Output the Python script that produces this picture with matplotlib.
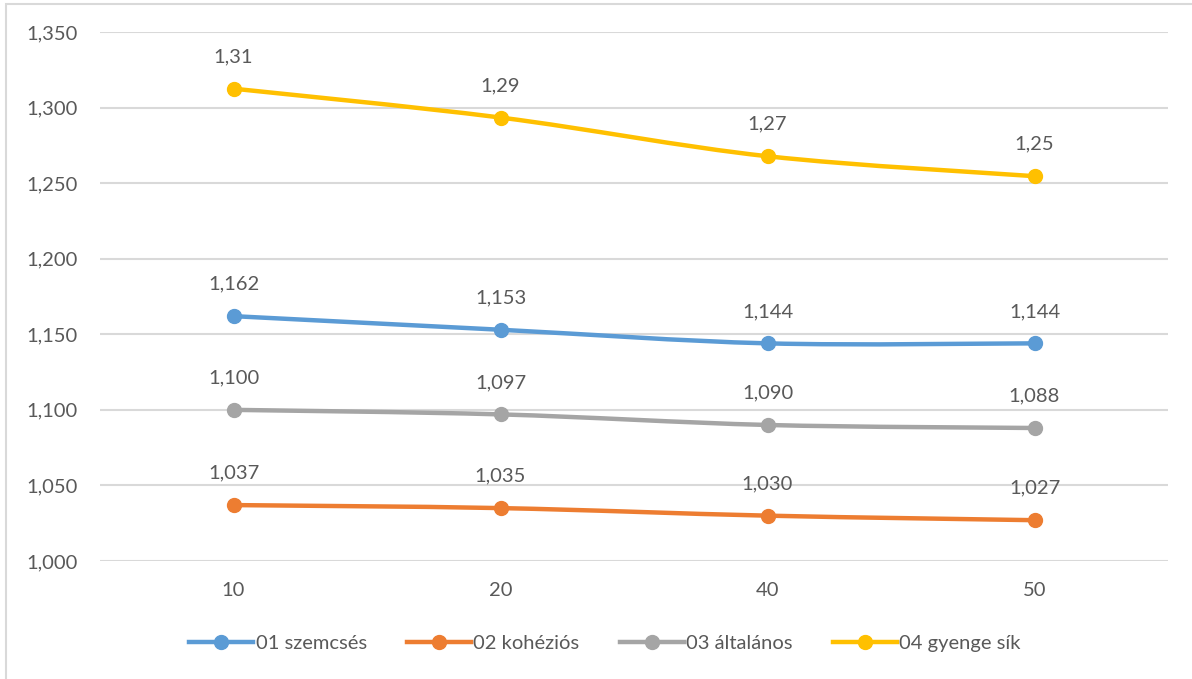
import matplotlib
matplotlib.use("Agg")
import matplotlib.pyplot as plt
from matplotlib.path import Path
from matplotlib.patches import PathPatch, Rectangle
from matplotlib.lines import Line2D
import numpy as np

# Category axis and series
categories = ["10", "20", "40", "50"]
szemcses = [1.162, 1.153, 1.144, 1.144]
kohezios = [1.037, 1.035, 1.030, 1.027]
altalanos = [1.100, 1.097, 1.090, 1.088]
gyenge_sik = [1.3125, 1.2934, 1.2678, 1.2546]

series = [
    ("01 szemcsés", szemcses, "#5B9BD5", "{:.3f}"),
    ("02 kohéziós", kohezios, "#ED7D31", "{:.3f}"),
    ("03 általános", altalanos, "#A5A5A5", "{:.3f}"),
    ("04 gyenge sík", gyenge_sik, "#FFC000", "{:.2f}"),
]
y_ticks = [1.000, 1.050, 1.100, 1.150, 1.200, 1.250, 1.300, 1.350]

TEXT = "#595959"
GRID = "#D9D9D9"
FONT = "Lato"
FS = 14.5

plt.rcParams["font.family"] = [FONT, "DejaVu Sans"]

fig = plt.figure(figsize=(11.92, 6.79), dpi=100)
ax = fig.add_axes([100 / 1192, 1 - 561 / 679, 1068 / 1192, 529 / 679])

# outer chart border
fig.patches.append(Rectangle((6 / 1192, -0.05), 1.2, (1 - 4 / 679) + 0.05,
                             transform=fig.transFigure, fill=False,
                             edgecolor="#D9D9D9", linewidth=1.5))


def smooth_path(xs, ys):
    """Cubic Bezier path through the points (Catmull-Rom style tangents)."""
    pts = np.column_stack([xs, ys]).astype(float)
    n = len(pts)
    verts = [pts[0]]
    codes = [Path.MOVETO]
    for i in range(n - 1):
        p0 = pts[i - 1] if i > 0 else pts[i]
        p1 = pts[i]
        p2 = pts[i + 1]
        p3 = pts[i + 2] if i + 2 < n else pts[i + 1]
        c1 = p1 + (p2 - p0) / 6.0
        c2 = p2 - (p3 - p1) / 6.0
        verts += [c1, c2, p2]
        codes += [Path.CURVE4] * 3
    return Path(verts, codes)


x = np.arange(len(categories))
handles = []
for name, vals, color, fmt in series:
    ax.add_patch(PathPatch(smooth_path(x, vals), facecolor="none",
                           edgecolor=color, linewidth=3.2, capstyle="round",
                           zorder=3))
    ax.plot(x, vals, linestyle="none", marker="o", markersize=10,
            color=color, zorder=4)
    for xi, v in zip(x, vals):
        ax.annotate(fmt.format(v).replace(".", ","), (xi, v),
                    xytext=(0, 23), textcoords="offset points",
                    ha="center", va="center", fontsize=FS, color=TEXT)
    handles.append(Line2D([], [], color=color, linewidth=3.2, marker="o",
                          markersize=10))

ax.set_xlim(-0.5, len(categories) - 0.5)
ax.set_ylim(1.0, 1.35)
ax.set_xticks(x)
ax.set_xticklabels(categories)
ax.set_yticks(y_ticks)
ax.set_yticklabels([f"{t:.3f}".replace(".", ",") for t in y_ticks])
ax.tick_params(axis="both", length=0, labelsize=FS, labelcolor=TEXT)
ax.tick_params(axis="y", pad=16)
ax.tick_params(axis="x", pad=15)
ax.grid(axis="y", color=GRID, linewidth=1.5)
ax.set_axisbelow(True)
for s in ax.spines.values():
    s.set_visible(False)

fig.legend(handles, [s[0] for s in series], loc="center",
           bbox_to_anchor=(605 / 1192, 1 - 643 / 679), ncol=4, frameon=False,
           fontsize=FS, labelcolor=TEXT, handlelength=3.2, handletextpad=0.1,
           columnspacing=2.0)

fig.savefig("out.png", dpi=100)
